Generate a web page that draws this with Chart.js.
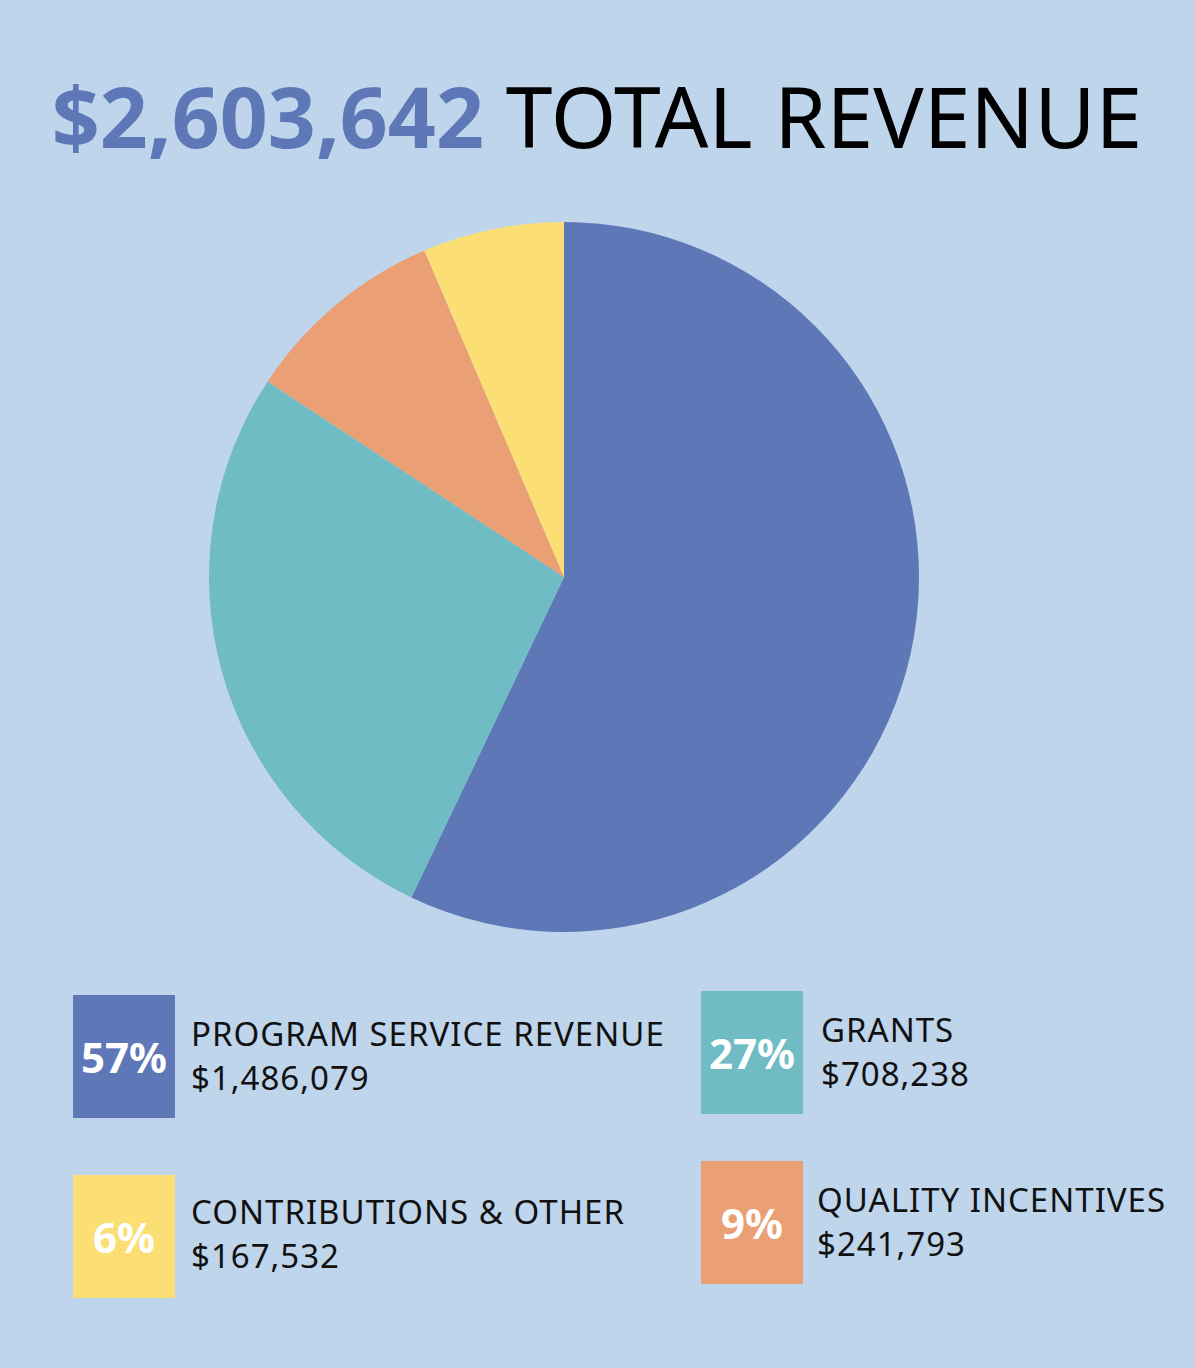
<!DOCTYPE html>
<html><head><meta charset="utf-8">
<script src="https://cdn.jsdelivr.net/npm/chart.js@4"></script>
<style>
body{margin:0;width:1194px;height:1368px;background:#bfd5ec;position:relative;overflow:hidden;font-family:"Noto Sans",sans-serif}
#title{position:absolute;top:66px;left:0;width:1194px;text-align:center;font-size:84px;line-height:100px;white-space:nowrap}
#title b{color:#5e77b6}
#wrap{position:absolute;left:205px;top:218px;width:718px;height:718px}
.box{position:absolute;width:102px;height:123px;color:#fff;font-weight:bold;font-size:42px;display:flex;align-items:center;justify-content:center}
.lab{position:absolute;font-size:33px;line-height:44px;color:#111;white-space:nowrap;letter-spacing:1px}
</style></head><body>
<div id="title"><b>$2,603,642</b> TOTAL REVENUE</div>
<div id="wrap"><canvas id="c" width="718" height="718"></canvas></div>
<div id="legend"></div>
<script>
const labels=["PROGRAM SERVICE REVENUE","GRANTS","QUALITY INCENTIVES","CONTRIBUTIONS & OTHER"];
const values=[1486079,708238,241793,167532];
const percents=["57%","27%","9%","6%"];
const amounts=["$1,486,079","$708,238","$241,793","$167,532"];
const colors=["#5e77b6","#6fbcc4","#eaa074","#fbdf74"];
new Chart(document.getElementById('c'),{type:'pie',data:{labels,datasets:[{data:values,backgroundColor:colors,borderWidth:0}]},
options:{responsive:false,animation:false,layout:{padding:4},plugins:{legend:{display:false},tooltip:{enabled:false}}}});
const pos=[[73,995,191,1012],[701,991,821,1008],[701,1161,817,1178],[73,1175,191,1190]];
let h='';
labels.forEach((l,i)=>{const p=pos[i];
h+=`<div class="box" style="left:${p[0]}px;top:${p[1]}px;background:${colors[i]}">${percents[i]}</div>`;
h+=`<div class="lab" style="left:${p[2]}px;top:${p[3]}px">${l.replace('&','&amp;')}<br>${amounts[i]}</div>`;});
document.getElementById('legend').innerHTML=h;
</script></body></html>
